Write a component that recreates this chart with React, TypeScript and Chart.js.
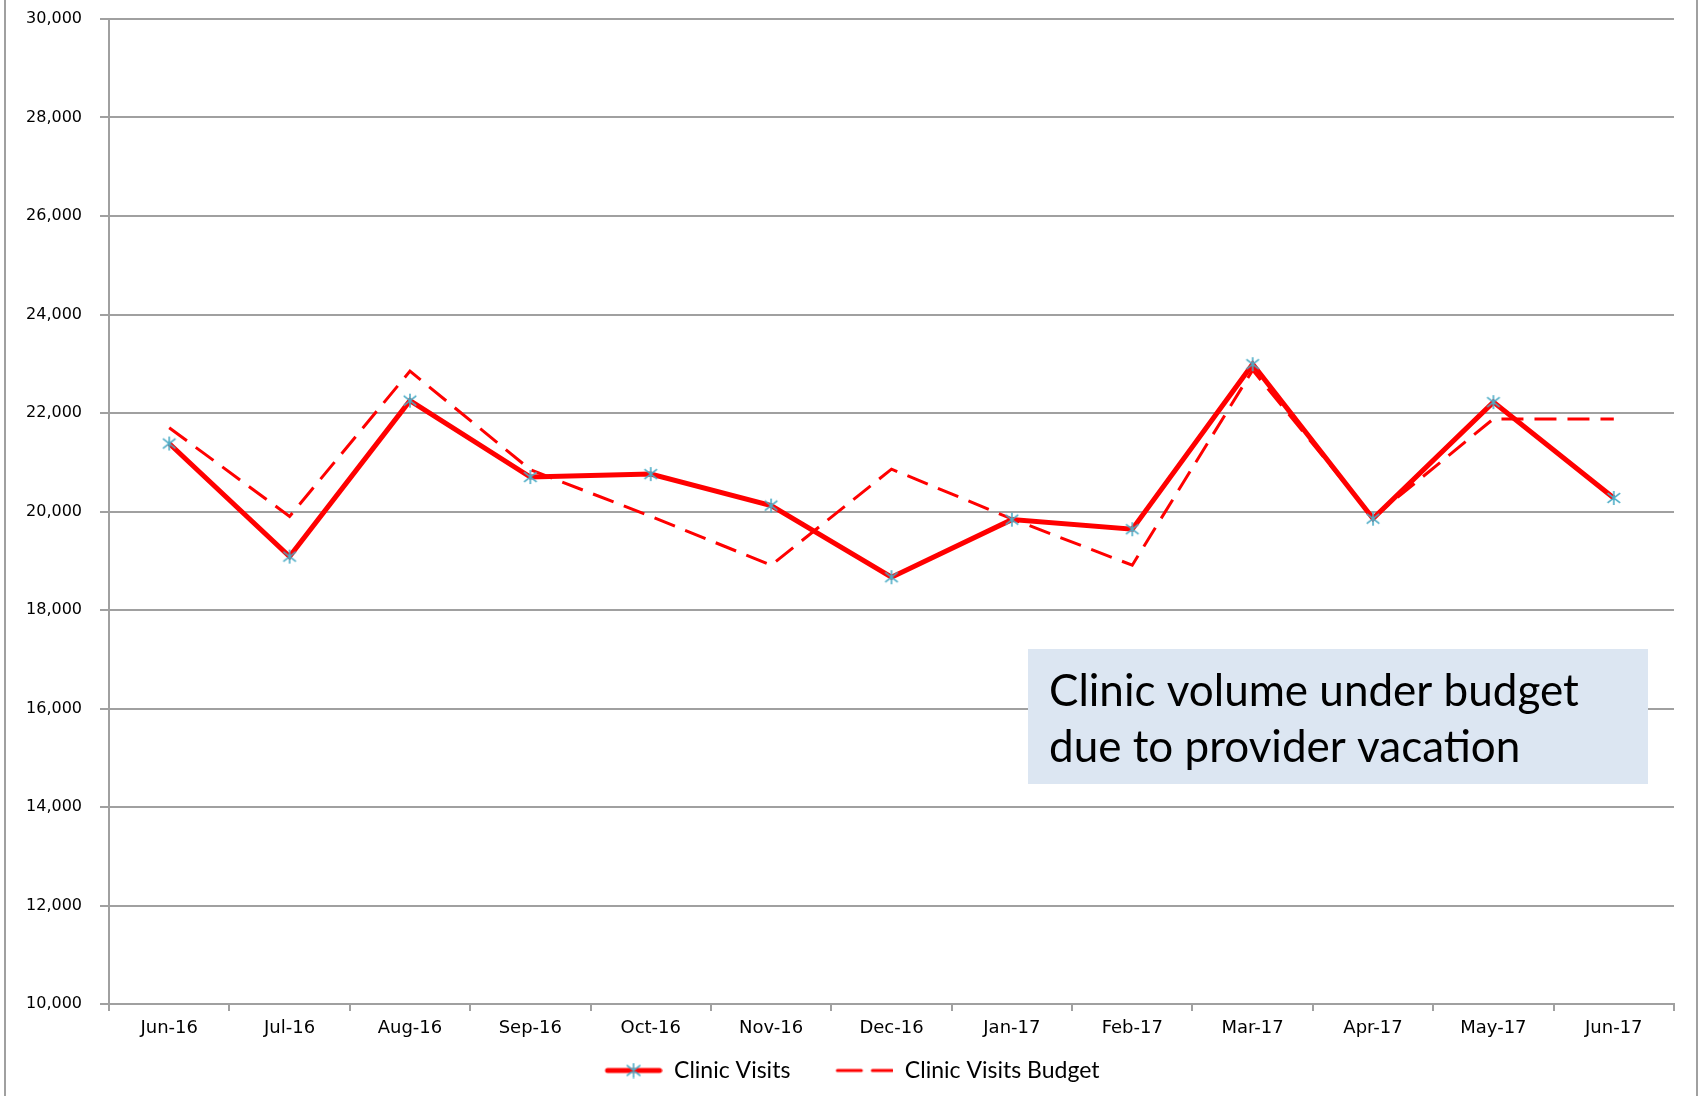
import { useEffect, useRef } from 'react';
import { Chart, registerables } from 'chart.js';

Chart.register(...registerables);

const categories = ['Jun-16', 'Jul-16', 'Aug-16', 'Sep-16', 'Oct-16', 'Nov-16', 'Dec-16', 'Jan-17', 'Feb-17', 'Mar-17', 'Apr-17', 'May-17', 'Jun-17'];
const clinicVisits = [21380, 19085, 22250, 20700, 20760, 20120, 18665, 19835, 19640, 22990, 19855, 22220, 20275];
const clinicVisitsBudget = [21700, 19900, 22850, 20850, 19900, 18910, 20860, 19850, 18910, 22870, 19880, 21880, 21880];
const seriesNames = ['Clinic Visits', 'Clinic Visits Budget'];
const yMin = 10000;
const yMax = 30000;
const yStep = 2000;
const annotationLines = ['Clinic volume under budget', 'due to provider vacation'];

const RED = '#ff0000';
const STAR_COLOR = '#4bacc6';
const GRID = '#a0a0a0';

function drawStar(ctx: CanvasRenderingContext2D, cx: number, cy: number, r: number) {
  ctx.strokeStyle = STAR_COLOR;
  ctx.lineWidth = 1.6;
  ctx.beginPath();
  ctx.moveTo(cx, cy - r);
  ctx.lineTo(cx, cy + r);
  const dx = r * 0.9;
  const dy = r * 0.7;
  ctx.moveTo(cx - dx, cy - dy);
  ctx.lineTo(cx + dx, cy + dy);
  ctx.moveTo(cx + dx, cy - dy);
  ctx.lineTo(cx - dx, cy + dy);
  ctx.stroke();
}

function makeStarImage(): HTMLCanvasElement {
  const c = document.createElement('canvas');
  c.width = 16;
  c.height = 16;
  const ctx = c.getContext('2d')!;
  drawStar(ctx, 8, 8, 7);
  return c;
}

// legend swatches: 30px blank lead-in (item spacing) + 58px line sample
function makeLegendSolid(): HTMLCanvasElement {
  const c = document.createElement('canvas');
  c.width = 88;
  c.height = 16;
  const ctx = c.getContext('2d')!;
  ctx.strokeStyle = RED;
  ctx.lineWidth = 5;
  ctx.lineCap = 'round';
  ctx.beginPath();
  ctx.moveTo(33, 8);
  ctx.lineTo(85, 8);
  ctx.stroke();
  drawStar(ctx, 59, 8, 7);
  return c;
}

function makeLegendDashed(): HTMLCanvasElement {
  const c = document.createElement('canvas');
  c.width = 88;
  c.height = 16;
  const ctx = c.getContext('2d')!;
  ctx.strokeStyle = RED;
  ctx.lineWidth = 3;
  ctx.lineCap = 'round';
  ctx.beginPath();
  ctx.moveTo(32, 8);
  ctx.lineTo(56, 8);
  ctx.moveTo(67, 8);
  ctx.lineTo(87, 8);
  ctx.stroke();
  return c;
}

const frame = {
  id: 'frame',
  beforeDraw(chart: any) {
    const ctx = chart.ctx;
    ctx.save();
    ctx.fillStyle = '#ffffff';
    ctx.fillRect(0, 0, chart.width, chart.height);
    ctx.strokeStyle = GRID;
    ctx.lineWidth = 2;
    ctx.beginPath();
    ctx.moveTo(5, 0);
    ctx.lineTo(5, chart.height);
    ctx.moveTo(1697, 0);
    ctx.lineTo(1697, chart.height);
    ctx.stroke();
    ctx.restore();
  },
};

const noteBox = {
  id: 'noteBox',
  afterDraw(chart: any) {
    const ctx = chart.ctx;
    const area = chart.chartArea;
    const x = area.left + 919;
    const y = area.top + 630;
    const w = 620;
    const h = 135;
    ctx.save();
    ctx.fillStyle = '#dce6f2';
    ctx.fillRect(x, y, w, h);
    ctx.fillStyle = '#000000';
    ctx.font = '44px Lato';
    ctx.textBaseline = 'alphabetic';
    ctx.textAlign = 'left';
    ctx.fillText(annotationLines[0], x + 21, y + 57, 540);
    ctx.fillText(annotationLines[1], x + 21, y + 113, 540);
    ctx.restore();
  },
};

export default function App() {
  const ref = useRef<HTMLCanvasElement | null>(null);

  useEffect(() => {
    document.body.style.margin = '0';
    const canvas = ref.current;
    if (!canvas) return;
    const starImg = makeStarImage();
    const legendImgs = [makeLegendSolid(), makeLegendDashed()];

    const chart = new Chart(canvas, {
      type: 'line',
      data: {
        labels: categories,
        datasets: [
          {
            label: seriesNames[0],
            data: clinicVisits,
            borderColor: RED,
            backgroundColor: RED,
            borderWidth: 5,
            tension: 0,
            fill: false,
            pointStyle: starImg as any,
            pointRadius: 7,
            borderJoinStyle: 'miter',
          },
          {
            label: seriesNames[1],
            data: clinicVisitsBudget,
            borderColor: RED,
            backgroundColor: RED,
            borderWidth: 3,
            borderDash: [22, 11],
            tension: 0,
            fill: false,
            pointRadius: 0,
            borderJoinStyle: 'miter',
          },
        ],
      },
      options: {
        responsive: false,
        animation: false,
        layout: { padding: { left: 0, right: 29, top: 19, bottom: 4 } },
        plugins: {
          tooltip: { enabled: false },
          legend: {
            position: 'bottom',
            labels: {
              usePointStyle: true,
              pointStyleWidth: 88,
              padding: 15,
              color: '#000000',
              font: { family: 'Lato', size: 23 },
              generateLabels: (ch: any) =>
                ch.data.datasets.map((ds: any, i: number) => ({
                  text: ds.label,
                  pointStyle: legendImgs[i],
                  fillStyle: RED,
                  strokeStyle: RED,
                  lineWidth: 0,
                  hidden: false,
                  datasetIndex: i,
                })),
            },
          },
        },
        scales: {
          x: {
            offset: true,
            grid: {
              display: true,
              offset: true,
              drawOnChartArea: false,
              drawTicks: true,
              tickLength: 7,
              color: GRID,
              lineWidth: 2,
            },
            border: { display: true, color: GRID, width: 2 },
            ticks: {
              color: '#000000',
              font: { family: 'DejaVu Sans', size: 18 },
              padding: 7,
              maxRotation: 0,
              autoSkip: false,
            },
            afterFit: (scale: any) => {
              scale.height = 40;
            },
          },
          y: {
            min: yMin,
            max: yMax,
            grid: {
              color: GRID,
              lineWidth: 2,
              tickLength: 9,
            },
            border: { display: true, color: GRID, width: 2 },
            ticks: {
              stepSize: yStep,
              color: '#000000',
              font: { family: 'DejaVu Sans', size: 16 },
              padding: 18,
              callback: (v: any) => Number(v).toLocaleString('en-US'),
            },
            afterFit: (scale: any) => {
              scale.width = 109;
              scale.paddingTop = 0;
              scale.paddingBottom = 0;
            },
          },
        },
      },
      plugins: [frame, noteBox],
    });
    return () => chart.destroy();
  }, []);

  return (
    <div style={{ width: 1703, height: 1096, position: 'relative' }}>
      <canvas ref={ref} width={1703} height={1096} style={{ display: 'block' }} />
    </div>
  );
}
